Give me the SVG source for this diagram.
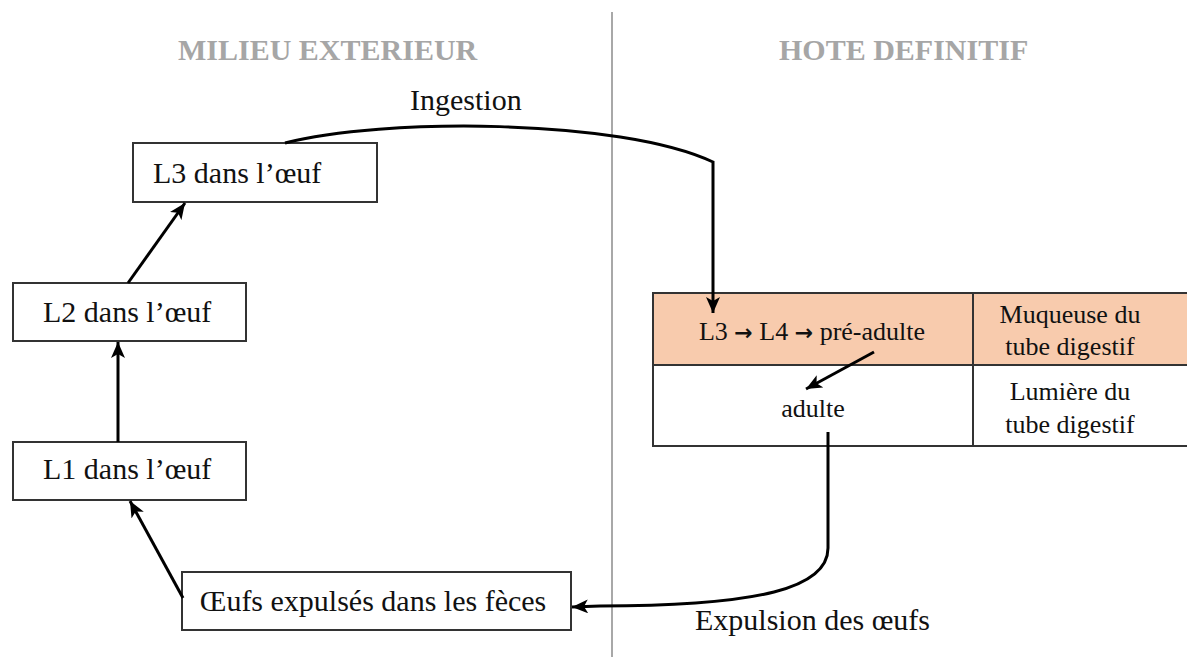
<svg xmlns="http://www.w3.org/2000/svg" width="1187" height="657" viewBox="0 0 1187 657">
<style>
text{font-family:"Times New Roman","Liberation Serif","DejaVu Serif",serif;fill:#111}
.title{font-size:30px;font-weight:bold;fill:#a6a6a6}
.lbl{font-size:30px}
.tbl{font-size:26px}
.box{fill:#fff;stroke:#333;stroke-width:2}
.con{fill:none;stroke:#000;stroke-width:3}
</style>
<defs>
<marker id="ah" markerUnits="userSpaceOnUse" markerWidth="18" markerHeight="14" refX="16" refY="7" orient="auto">
<path d="M0,0 L16,7 L0,14 L4,7 Z" fill="#000"/>
</marker>
</defs>
<rect width="1187" height="657" fill="#fff"/>
<line x1="612" y1="12" x2="612" y2="657" stroke="#a8a8a8" stroke-width="2"/>
<text class="title" x="178" y="60">MILIEU EXTERIEUR</text>
<text class="title" x="779" y="60">HOTE DEFINITIF</text>
<text class="lbl" x="410" y="110">Ingestion</text>
<text class="lbl" x="695" y="630">Expulsion des œufs</text>

<g id="n-l3">
<rect class="box" x="133" y="143" width="244" height="59"/>
<text class="lbl" x="153" y="183">L3 dans l’œuf</text>
</g>
<g id="n-l2">
<rect class="box" x="13" y="283" width="233" height="58"/>
<text class="lbl" x="43" y="322">L2 dans l’œuf</text>
</g>
<g id="n-l1">
<rect class="box" x="13" y="442" width="233" height="58"/>
<text class="lbl" x="43" y="479">L1 dans l’œuf</text>
</g>
<g id="n-oeufs">
<rect class="box" x="182" y="572" width="389" height="58"/>
<text class="lbl" x="373" y="611" text-anchor="middle">Œufs expulsés dans les fèces</text>
</g>
<g id="n-table">
<rect x="653" y="293" width="540" height="72" fill="#f8cbad"/>
<rect x="653" y="293" width="540" height="153" fill="none" stroke="#333" stroke-width="2"/>
<line x1="653" y1="365" x2="1190" y2="365" stroke="#333" stroke-width="2"/>
<line x1="973" y1="293" x2="973" y2="446" stroke="#333" stroke-width="2"/>
<text class="tbl" x="812" y="340" text-anchor="middle">L3 <tspan font-family="DejaVu Sans" font-weight="bold" font-size="22">→</tspan> L4 <tspan font-family="DejaVu Sans" font-weight="bold" font-size="22">→</tspan> pré-adulte</text>
<text class="tbl" x="1070" y="323" text-anchor="middle">Muqueuse du</text>
<text class="tbl" x="1070" y="355" text-anchor="middle">tube digestif</text>
<text class="tbl" x="813" y="417" text-anchor="middle">adulte</text>
<text class="tbl" x="1070" y="400" text-anchor="middle">Lumière du</text>
<text class="tbl" x="1070" y="433" text-anchor="middle">tube digestif</text>
</g>

<g id="connectors">
<path class="con" d="M285,143 C380,118 620,118 713,162 L713,313" marker-end="url(#ah)"/>
<path class="con" d="M118,442 L118,342" marker-end="url(#ah)"/>
<path class="con" d="M128,283 L185,203" marker-end="url(#ah)"/>
<path class="con" d="M183,598 L130,501" marker-end="url(#ah)"/>
<path class="con" d="M874,352 L806,389" marker-end="url(#ah)"/>
<path class="con" d="M828,432 L828,548 C828,588 760,606 600,606 L572,607" marker-end="url(#ah)"/>
</g>
</svg>
